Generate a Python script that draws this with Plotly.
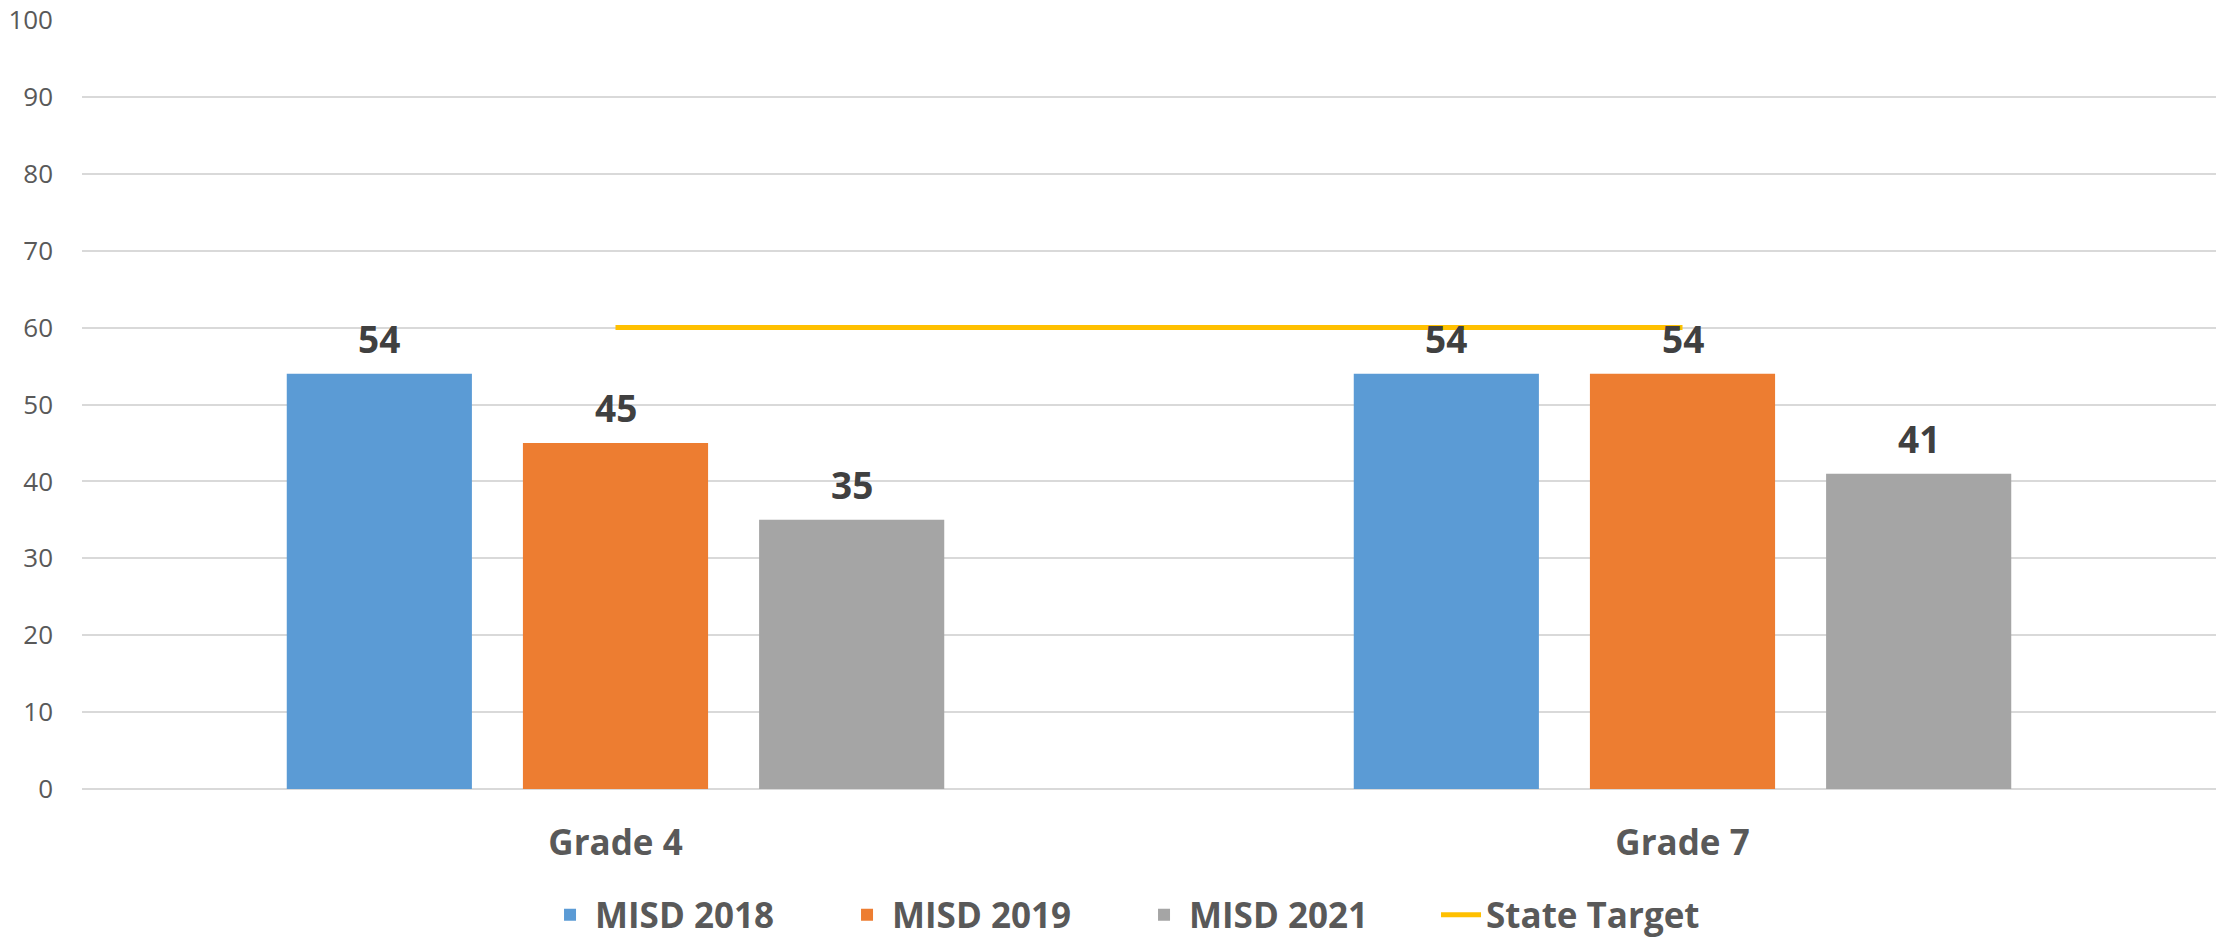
import plotly.graph_objects as go

categories = ["Grade 4", "Grade 7"]
series_names = ["MISD 2018", "MISD 2019", "MISD 2021"]
misd_2018 = [54, 54]
misd_2019 = [45, 54]
misd_2021 = [35, 41]
state_target = [60, 60]
y_ticks = [0, 10, 20, 30, 40, 50, 60, 70, 80, 90, 100]

colors = ["#5B9BD5", "#ED7D31", "#A5A5A5"]
target_color = "#FFC000"

W, H = 2216, 940
M_L, M_R, M_T, M_B = 82, 0, 20, 151
BARGAP, BARGROUPGAP = 0.336, 0.216

fig = go.Figure()
series_values = [misd_2018, misd_2019, misd_2021]
for name, vals, col in zip(series_names, series_values, colors):
    fig.add_trace(go.Bar(x=categories, y=vals, name=name, marker=dict(color=col, line=dict(width=0))))

fig.add_trace(go.Scatter(x=categories, y=state_target, name="State Target", mode="lines",
                         line=dict(color=target_color, width=5)))

# data labels placed above each bar, offset to each bar's slot in the group
plot_w = W - M_L - M_R
cat_w = plot_w / len(categories)
slot = cat_w * (1 - BARGAP) / len(series_names)
for i, vals in enumerate(series_values):
    for c, v in zip(categories, vals):
        fig.add_annotation(x=c, y=v, text=f"<b>{v}</b>", showarrow=False,
                           xanchor="center", yanchor="bottom",
                           xshift=(i - (len(series_names) - 1) / 2) * slot, yshift=8,
                           font=dict(family="Open Sans", size=37, color="#404040"))

fig.update_layout(
    width=W, height=H,
    margin=dict(l=M_L, r=M_R, t=M_T, b=M_B, autoexpand=False),
    paper_bgcolor="white", plot_bgcolor="white",
    barmode="group", bargap=BARGAP, bargroupgap=BARGROUPGAP,
    font=dict(family="Open Sans", color="#595959"),
    showlegend=True,
    legend=dict(orientation="h", xref="container", yref="container",
                x=0.514, xanchor="center", y=0.0265, yanchor="middle",
                font=dict(family="Open Sans", size=35, color="#595959", weight="bold"),
                itemwidth=40, tracegroupgap=0, entrywidth=242, entrywidthmode="pixels"),
)
fig.update_yaxes(range=[0, 100], tickvals=y_ticks, showgrid=True, gridcolor="#D9D9D9", gridwidth=2,
                 zeroline=True, zerolinecolor="#D9D9D9", zerolinewidth=2,
                 tickfont=dict(family="Open Sans", size=26, color="#595959"),
                 ticks="", ticklabelstandoff=28, ticklabeloverflow="allow",
                 automargin=False, fixedrange=True)
fig.update_xaxes(showgrid=False, showline=False, ticks="",
                 tickfont=dict(family="Open Sans", size=35, color="#595959", weight="bold"),
                 ticklabelstandoff=30, automargin=False, fixedrange=True)

fig.write_html("out.html", config={"displayModeBar": False},
               post_script="document.body.style.margin='0';")
